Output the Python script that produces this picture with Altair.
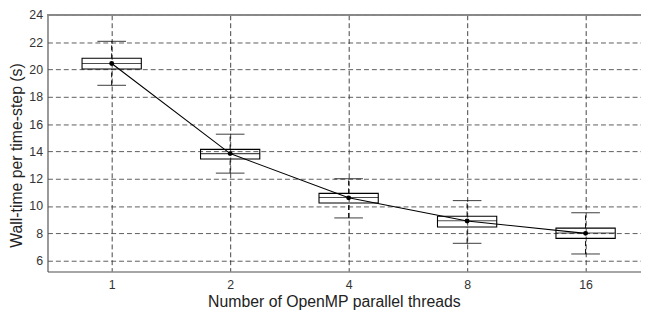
import altair as alt
import pandas as pd

threads = ["1", "2", "4", "8", "16"]
whisk_lo = [18.84, 12.41, 9.13, 7.27, 6.49]
q1 = [20.04, 13.44, 10.22, 8.47, 7.63]
median = [20.44, 13.84, 10.62, 8.92, 8.03]
q3 = [20.82, 14.15, 10.93, 9.25, 8.38]
whisk_hi = [22.06, 15.26, 12.00, 10.40, 9.51]
mean = [20.44, 13.84, 10.60, 8.90, 8.00]
y_ticks = [6, 8, 10, 12, 14, 16, 18, 20, 22, 24]

df = pd.DataFrame({
    "threads": threads, "lo": whisk_lo, "q1": q1, "med": median,
    "q3": q3, "hi": whisk_hi, "mean": mean,
})

FONT = "Liberation Sans"
thr_list = "[" + ",".join("'%s'" % t for t in threads) + "]"

base = alt.Chart(df).transform_calculate(
    idx="indexof(%s, datum.threads) + 1" % thr_list
)

xaxis = alt.Axis(
    values=[1, 2, 3, 4, 5],
    labelExpr="%s[datum.value - 1]" % thr_list,
    title="Number of OpenMP parallel threads",
    titleX=290, titleY=22, titleBaseline="top", titleAnchor=None,
    grid=True, gridDash=[5, 3], gridColor="#222", gridOpacity=0.85,
    domainColor="#888", domainWidth=1.5, ticks=False,
    labelPadding=7, labelOverlap=False,
)
xscale = alt.Scale(domain=[0.5, 5.426], nice=False, zero=False)
yscale = alt.Scale(domain=[5.2, 24], nice=False, zero=False)
yaxis = alt.Axis(
    values=y_ticks,
    title="Wall-time per time-step (s)",
    titleX=-31, titleY=142, titleAngle=270, titleAlign="center",
    titleBaseline="middle",
    grid=True, gridDash=[5, 3], gridColor="#333", gridOpacity=0.8,
    domainColor="#555", domainWidth=1.2, ticks=False,
    labelPadding=5, labelOverlap=False, labelFlush=False,
)

def X():
    return alt.X("idx:Q", scale=xscale, axis=xaxis)

def Y(f):
    return alt.Y(f, scale=yscale, axis=yaxis)

boxes = base.mark_bar(size=60, fill="transparent", stroke="black", strokeWidth=1.1).encode(
    x=X(), y=Y("q1:Q"), y2="q3:Q"
)
wh_up = base.mark_rule(color="black", strokeDash=[5, 3], strokeWidth=1).encode(
    x=X(), y=Y("q3:Q"), y2="hi:Q"
)
wh_dn = base.mark_rule(color="black", strokeDash=[5, 3], strokeWidth=1).encode(
    x=X(), y=Y("lo:Q"), y2="q1:Q"
)
cap_hi = base.mark_tick(orient="horizontal", size=29, thickness=1.1, color="black").encode(
    x=X(), y=Y("hi:Q")
)
cap_lo = base.mark_tick(orient="horizontal", size=29, thickness=1.1, color="black").encode(
    x=X(), y=Y("lo:Q")
)
med = base.mark_tick(orient="horizontal", size=60, thickness=1.1, color="black").encode(
    x=X(), y=Y("med:Q")
)
line = base.mark_line(color="black", strokeWidth=1.1).encode(
    x=X(), y=Y("mean:Q")
)
dots = base.mark_point(filled=True, color="black", size=25, opacity=1).encode(
    x=X(), y=Y("mean:Q")
)
top_border = alt.Chart(df).mark_rule(color="#888", strokeWidth=1.5).encode(
    x=alt.value(0), x2=alt.value(601), y=alt.value(0)
)

chart = alt.layer(boxes, wh_up, wh_dn, cap_hi, cap_lo, med, line, dots, top_border).properties(
    width=601, height=260,
    autosize=alt.AutoSizeParams(type="none"),
    padding={"left": 40, "top": 5, "right": 0, "bottom": 40},
).configure_view(
    strokeOpacity=0
).configure_axis(
    labelFont=FONT, titleFont=FONT, labelFontSize=12.5, titleFontSize=16,
    labelColor="#333", titleColor="#222", titleFontWeight="normal",
)

chart.save("out.html", embed_options={"renderer": "svg", "actions": False})
